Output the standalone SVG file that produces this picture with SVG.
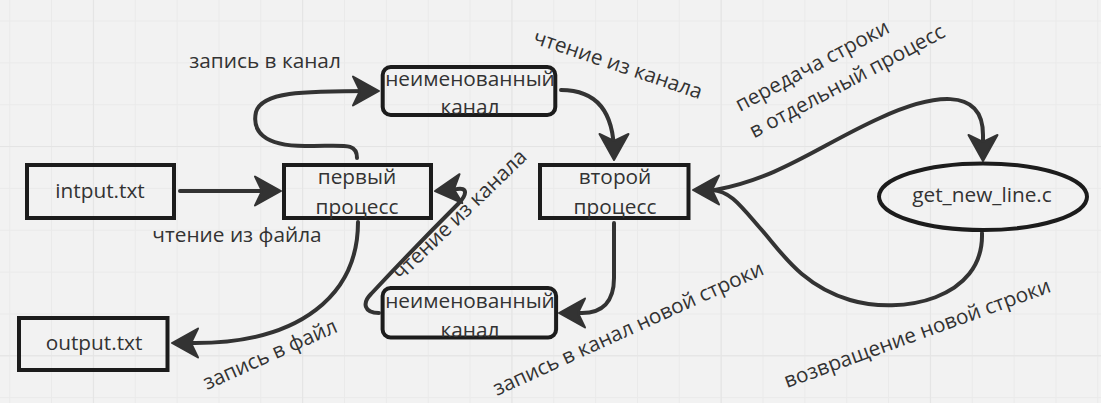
<svg xmlns="http://www.w3.org/2000/svg" width="1101" height="403" viewBox="0 0 1101 403">
<style>
.box{fill:none;stroke:#1c1c1c;stroke-width:4}
.con{fill:none;stroke:#333;stroke-width:4;stroke-linecap:round;stroke-linejoin:round}
.t{font-family:"Open Sans","Noto Sans","DejaVu Sans",sans-serif;font-size:20.8px;fill:#333}
.c{text-anchor:middle}
</style>
<defs>
<pattern id="minor" patternUnits="userSpaceOnUse" x="9.2" y="20.5" width="41.85" height="41.85">
<path d="M0,0.5H41.85M0.5,0V41.85" stroke="#eaeaea" stroke-width="1" fill="none"/>
</pattern>
<pattern id="major" patternUnits="userSpaceOnUse" x="92.9" y="146.05" width="209.25" height="209.25">
<path d="M0,0.5H209.25M0.5,0V209.25" stroke="#e4e4e4" stroke-width="1.2" fill="none"/>
</pattern>
<marker id="arr" markerUnits="userSpaceOnUse" markerWidth="32" markerHeight="34" viewBox="0 0 32 34" refX="23" refY="17" orient="auto">
<path d="M29,17 L3,2.5 L10,17 L3,31.5 Z" fill="#333" stroke="#333" stroke-width="2" stroke-linejoin="round"/>
</marker>
</defs>
<rect width="1101" height="403" fill="#f2f2f2"/>
<rect width="1101" height="403" fill="url(#minor)"/>
<rect width="1101" height="403" fill="url(#major)"/>

<g id="connectors">
<path class="con" d="M180,191 L275,191" marker-end="url(#arr)"/>
<path class="con" d="M357,158 C357,142 345,146 305,146 C262,146 252,130 256,112 C262,92 300,91 373,91" marker-end="url(#arr)"/>
<path class="con" d="M561,90 C595,90 614,110 614,154" marker-end="url(#arr)"/>
<path class="con" d="M614,223 L614,278 C614,302 602,313 582,313 L565,313" marker-end="url(#arr)"/>
<path class="con" d="M379,313 C364,313 362,303 371,294 C400,263 430,232 458,204 C468,194 467,187 457,189 L441,190.5" marker-end="url(#arr)"/>
<path class="con" d="M358,222 C358,295 300,343 195,343 L178,343" marker-end="url(#arr)"/>
<path class="con" d="M982,233 C984,300 900,315 850,300 C800,285 780,250 760,228 C740,205 730,191 712,190 L699,190" marker-end="url(#arr)"/>
<path class="con" d="M715,190 C780,178 820,145 880,118 C930,95 983,85 983,135 L983,155" marker-end="url(#arr)"/>
</g>

<g id="labels">
<text class="t c" x="265" y="68">запись в канал</text>
<text class="t c" x="237" y="242">чтение из файла</text>
<text class="t" transform="translate(207,390) rotate(-24)">запись в файл</text>
<text class="t" transform="translate(401,281) rotate(-44)">чтение из канала</text>
<text class="t" transform="translate(532,43) rotate(18.5)">чтение из канала</text>
<text class="t" transform="translate(740,112) rotate(-28)"><tspan x="0" y="0">передача строки</tspan><tspan x="0" y="30">в отдельный процесс</tspan></text>
<text class="t" transform="translate(497,396) rotate(-24.5)">запись в канал новой строки</text>
<text class="t" transform="translate(787,388) rotate(-20)">возвращение новой строки</text>
</g>

<g id="input">
<rect class="box" x="27" y="165" width="147" height="53"/>
<text class="t c" x="100" y="198">intput.txt</text>
</g>
<g id="output">
<rect class="box" x="19" y="318" width="148.5" height="52"/>
<text class="t c" x="94" y="350">output.txt</text>
</g>
<g id="process1">
<rect class="box" x="284" y="165" width="147" height="53"/>
<text class="t c" x="357" y="184">первый</text>
<text class="t c" x="357" y="214">процесс</text>
</g>
<g id="pipe1">
<rect class="box" x="382.7" y="67" width="172.6" height="48" rx="8"/>
<text class="t c" x="470" y="86">неименованный</text>
<text class="t c" x="470" y="114">канал</text>
</g>
<g id="process2">
<rect class="box" x="540" y="165" width="148.5" height="53"/>
<text class="t c" x="615" y="184">второй</text>
<text class="t c" x="615" y="214">процесс</text>
</g>
<g id="pipe2">
<rect class="box" x="382.6" y="288" width="173.5" height="49.5" rx="8"/>
<text class="t c" x="470" y="308">неименованный</text>
<text class="t c" x="470" y="337">канал</text>
</g>
<g id="getline">
<ellipse class="box" cx="983" cy="196.7" rx="104" ry="33.3"/>
<text class="t c" x="982" y="202">get_new_line.c</text>
</g>
</svg>
